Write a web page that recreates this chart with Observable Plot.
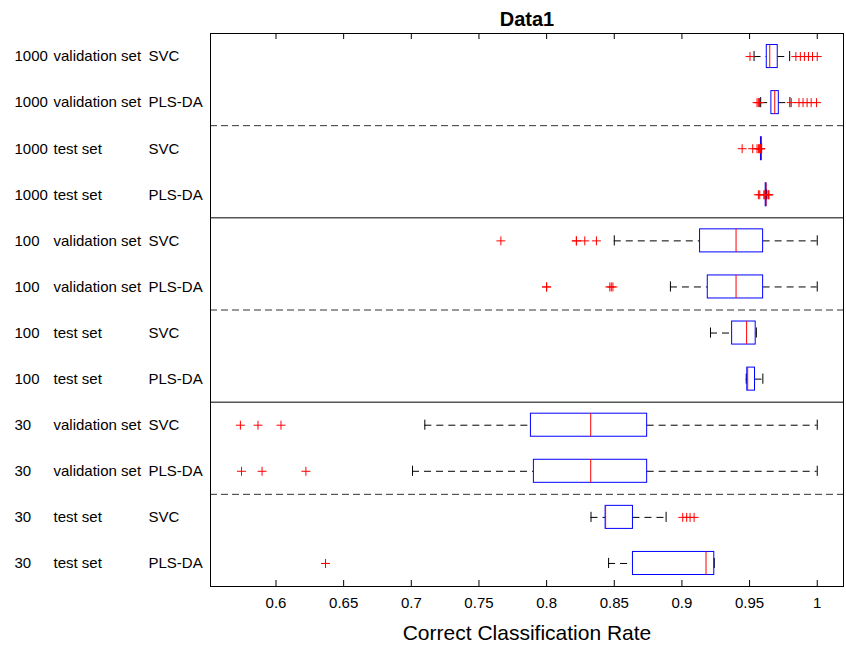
<!DOCTYPE html>
<html><head><meta charset="utf-8">
<script src="https://cdn.jsdelivr.net/npm/d3@7"></script>
<script src="https://cdn.jsdelivr.net/npm/@observablehq/plot@0.6"></script>
<style>body{margin:0;background:#fff;} svg{display:block}</style>
</head><body><div id="chart"></div>
<script>
const title = "Data1";
const xLabel = "Correct Classification Rate";
const sizes   = ["1000","1000","1000","1000","100","100","100","100","30","30","30","30"];
const sets    = ["validation set","validation set","test set","test set","validation set","validation set","test set","test set","validation set","validation set","test set","test set"];
const methods = ["SVC","PLS-DA","SVC","PLS-DA","SVC","PLS-DA","SVC","PLS-DA","SVC","PLS-DA","SVC","PLS-DA"];
const lowerWhisker = [0.9533, 0.9582, 0.9584, 0.9619, 0.85,   0.8915, 0.9211, 0.9475, 0.71,   0.7009, 0.8328, 0.8458];
const q1           = [0.9627, 0.9661, 0.9584, 0.9619, 0.9134, 0.9191, 0.9371, 0.9483, 0.7884, 0.7906, 0.8436, 0.8638];
const median       = [0.9649, 0.9686, 0.9587, 0.9621, 0.94,   0.94,   0.9478, 0.9486, 0.8326, 0.8326, 0.8436, 0.9178];
const q3           = [0.9708, 0.9716, 0.9589, 0.9625, 0.96,   0.96,   0.9545, 0.954,  0.8743, 0.8743, 0.8638, 0.9239];
const upperWhisker = [0.9796, 0.9798, 0.9589, 0.9625, 1.0,    1.0,    0.955,  0.9598, 1.0,    1.0,    0.8883, 0.9239];
const outliers = [
  [0.9503, 0.9842, 0.9875, 0.9905, 0.9935, 0.9965, 1.0],
  [0.9555, 0.9565, 0.9573, 0.9808, 0.9865, 0.9895, 0.9925, 0.9955, 0.9995],
  [0.9445, 0.9523, 0.9555, 0.9565, 0.9572, 0.9578, 0.9582, 0.9582],
  [0.9565, 0.9575, 0.9605, 0.9612, 0.9635, 0.9642, 0.9642],
  [0.7662, 0.822, 0.822, 0.8282, 0.8368],
  [0.8, 0.8, 0.8467, 0.8478, 0.849],
  [],
  [],
  [0.5737, 0.5867, 0.6037],
  [0.5745, 0.5897, 0.6221],
  [0.9006, 0.9035, 0.906, 0.909],
  [0.6366, 0.6366]
];
const xTicks = [0.6, 0.65, 0.7, 0.75, 0.8, 0.85, 0.9, 0.95, 1];
const solidSeparators = [4.5, 8.5];
const dashedSeparators = [2.5, 6.5, 10.5];

const rows = sizes.map((s, i) => ({row: i + 1, size: s, set: sets[i], method: methods[i],
  lo: lowerWhisker[i], q1: q1[i], med: median[i], q3: q3[i], hi: upperWhisker[i]}));
const outlierPts = outliers.flatMap((vals, i) => vals.map(v => ({row: i + 1, v})));
const boxHalf = 0.25, capHalf = 0.11;

const chart = Plot.plot({
  width: 846, height: 646,
  marginTop: 33, marginBottom: 60, marginLeft: 210, marginRight: 3,
  style: {fontFamily: "'Liberation Sans', Arial, Helvetica, sans-serif", fontSize: "15px", color: "black", background: "white"},
  x: {domain: [0.5516, 1.0194]},
  y: {domain: [0.5, 12.5], reverse: true, axis: null},
  marks: [
    Plot.ruleY(dashedSeparators, {y: d => d, stroke: "#333", strokeDasharray: "7,4"}),
    Plot.ruleY(solidSeparators, {y: d => d, stroke: "black"}),
    Plot.ruleY(rows, {y: "row", x1: "lo", x2: "q1", stroke: "black", strokeDasharray: "7,5"}),
    Plot.ruleY(rows, {y: "row", x1: "q3", x2: "hi", stroke: "black", strokeDasharray: "7,5"}),
    Plot.ruleX(rows, {x: "lo", y1: d => d.row - capHalf, y2: d => d.row + capHalf, stroke: "black"}),
    Plot.ruleX(rows, {x: "hi", y1: d => d.row - capHalf, y2: d => d.row + capHalf, stroke: "black"}),
    Plot.rect(rows, {x1: "q1", x2: "q3", y1: d => d.row - boxHalf, y2: d => d.row + boxHalf, stroke: "blue", fill: "none"}),
    Plot.ruleX(rows, {x: "med", y1: d => d.row - boxHalf, y2: d => d.row + boxHalf, stroke: "red"}),
    Plot.dot(outlierPts, {x: "v", y: "row", symbol: "plus", r: 3, stroke: "red", strokeWidth: 1}),
    Plot.ruleX(xTicks, {x: d => d, insetTop: 547, stroke: "black"}),
    Plot.ruleX(xTicks, {x: d => d, insetBottom: 547, stroke: "black"}),
    Plot.axisX(xTicks, {anchor: "bottom", tickSize: 0, tickPadding: 11, label: null,
      tickFormat: d => String(+d.toFixed(2)), fontSize: 15}),
    Plot.text(rows, {y: "row", text: "size", frameAnchor: "left", textAnchor: "start", dx: -196, fontSize: 15}),
    Plot.text(rows, {y: "row", text: "set", frameAnchor: "left", textAnchor: "start", dx: -157, fontSize: 15}),
    Plot.text(rows, {y: "row", text: "method", frameAnchor: "left", textAnchor: "start", dx: -62, fontSize: 15}),
    Plot.text([xLabel], {frameAnchor: "bottom", dy: 47, fontSize: 21, lineAnchor: "middle"}),
    Plot.text([title], {frameAnchor: "top", dy: -14, fontSize: 20, fontWeight: "bold", lineAnchor: "middle"}),
    Plot.frame({stroke: "black"})
  ]
});
document.getElementById("chart").append(chart);
</script>
</body></html>
